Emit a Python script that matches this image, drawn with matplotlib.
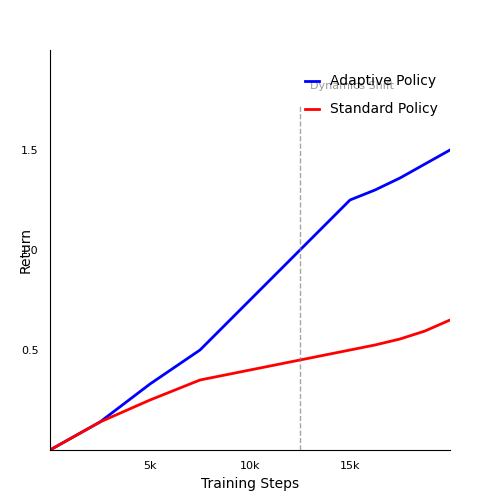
import matplotlib
matplotlib.use("Agg")
import matplotlib.pyplot as plt

steps = [0, 2500, 5000, 7500, 10000, 12500, 15000, 16250, 17500, 18750, 20000]
adaptive = [0.0, 0.14, 0.33, 0.50, 0.75, 1.00, 1.25, 1.30, 1.36, 1.43, 1.50]
standard = [0.0, 0.14, 0.25, 0.35, 0.40, 0.45, 0.50, 0.525, 0.555, 0.595, 0.65]
xticks = [5000, 10000, 15000]
xticklabels = ["5k", "10k", "15k"]
yticks = [0.5, 1.0, 1.5]
shift_step = 12500

fig = plt.figure(figsize=(5, 5), dpi=100)
ax = fig.add_axes([0.1, 0.1, 0.8, 0.8])
ax.plot(steps, adaptive, color="blue", lw=2, label="Adaptive Policy")
ax.plot(steps, standard, color="red", lw=2, label="Standard Policy")
ax.plot([shift_step, shift_step], [0, 1.72], color="gray", ls="--", lw=1, alpha=0.7)
ax.text(shift_step + 500, 1.82, "Dynamics Shift", color="gray", fontsize=8, ha="left", va="center", alpha=0.8)
ax.set_xlim(0, 20000)
ax.set_ylim(0, 2.0)
ax.set_xticks(xticks)
ax.set_xticklabels(xticklabels)
ax.set_yticks(yticks)
ax.tick_params(labelsize=8, length=0, pad=8)
for s in ["top", "right"]:
    ax.spines[s].set_visible(False)
ax.set_xlabel("Training Steps", fontsize=10, labelpad=4)
ax.set_ylabel("Return", fontsize=10, labelpad=-8)
ax.legend(loc="upper right", frameon=False, fontsize=10, bbox_to_anchor=(1.0, 0.97),
          handlelength=1.0, labelspacing=1.0)
fig.savefig("out.png")
